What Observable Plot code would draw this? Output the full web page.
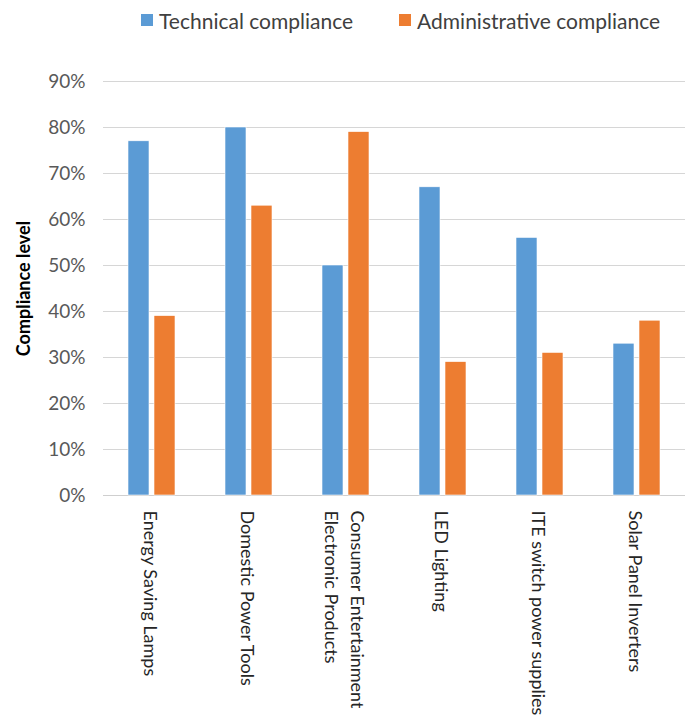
<!DOCTYPE html>
<html>
<head>
<meta charset="utf-8">
<script src="https://cdn.jsdelivr.net/npm/d3@7"></script>
<script src="https://cdn.jsdelivr.net/npm/@observablehq/plot@0.6"></script>
<style>
  html, body { margin: 0; padding: 0; background: #fff; }
  body { width: 688px; height: 715px; overflow: hidden; font-family: Lato, "Open Sans", sans-serif; }
  #legend { height: 40px; display: flex; align-items: center; padding-left: 141px; box-sizing: border-box; font-size: 21px; color: #404040; white-space: nowrap; width: 688px; }
  #legend .item { display: flex; align-items: center; flex-shrink: 0; }
  #legend .item + .item { margin-left: 46px; }
  #legend .sw { width: 12px; height: 12px; margin-right: 6px; flex-shrink: 0; }
  #chart svg { display: block; overflow: visible; }
</style>
</head>
<body>
<div id="legend"></div>
<div id="chart"></div>
<script>
const categories = [
  "Energy Saving Lamps",
  "Domestic Power Tools",
  "Consumer Entertainment\nElectronic Products",
  "LED Lighting",
  "ITE switch power supplies",
  "Solar Panel Inverters"
];
const seriesNames = ["Technical compliance", "Administrative compliance"];
const technicalValues = [77, 80, 50, 67, 56, 33];
const administrativeValues = [39, 63, 79, 29, 31, 38];
const yTicks = [0, 10, 20, 30, 40, 50, 60, 70, 80, 90];
const seriesColors = ["#5B9BD5", "#ED7D31"];
const yLabel = "Compliance level";

const data = [];
categories.forEach((c, i) => {
  data.push({category: c, series: seriesNames[0], value: technicalValues[i]});
  data.push({category: c, series: seriesNames[1], value: administrativeValues[i]});
});

// legend
const legend = document.getElementById("legend");
seriesNames.forEach((s, i) => {
  const item = document.createElement("div");
  item.className = "item";
  const sw = document.createElement("span");
  sw.className = "sw";
  sw.style.background = seriesColors[i];
  const t = document.createElement("span");
  t.textContent = s;
  item.appendChild(sw);
  item.appendChild(t);
  legend.appendChild(item);
});

const chart = Plot.plot({
  width: 688,
  height: 675,
  marginTop: 41,
  marginBottom: 220,
  marginLeft: 103,
  marginRight: 3,
  style: {fontFamily: "Lato, 'Open Sans', sans-serif", fontSize: "19px", background: "#fff"},
  fx: {domain: categories, padding: 0, axis: null, label: null},
  x: {domain: seriesNames, paddingInner: 0.2, paddingOuter: 0.9, axis: null, label: null},
  y: {domain: [0, 90], label: null},
  color: {domain: seriesNames, range: seriesColors},
  marks: [
    Plot.gridY(yTicks, {stroke: "#d6d6d6", strokeOpacity: 1, strokeWidth: 1}),
    Plot.ruleY([0], {stroke: "#cfcfcf", strokeWidth: 1.2}),
    Plot.barY(data, {fx: "category", x: "series", y: "value", fill: "series", stroke: "#ffffff", strokeWidth: 0.6}),
    Plot.axisY({
      ticks: yTicks,
      tickFormat: d => d + "%",
      tickSize: 0,
      tickPadding: 18,
      fill: "#595959",
      fontSize: 19,
      label: yLabel,
      labelAnchor: "center",
      labelArrow: "none",
      labelOffset: 86,
      line: true,
      stroke: "#b0b0b0"
    }),
    Plot.text(categories, {
      fx: d => d,
      text: d => d,
      frameAnchor: "bottom",
      rotate: 90,
      textAnchor: "start",
      lineAnchor: "middle",
      lineHeight: 1.45,
      dy: 15,
      fontSize: 18,
      fill: "#262626"
    })
  ]
});
document.getElementById("chart").appendChild(chart);

// bold y label
chart.querySelectorAll("text").forEach(t => {
  if (t.textContent.trim() === yLabel) {
    t.setAttribute("font-weight", "bold");
    t.setAttribute("fill", "#000");
    t.style.fontSize = "18px";
  }
});
</script>
</body>
</html>
